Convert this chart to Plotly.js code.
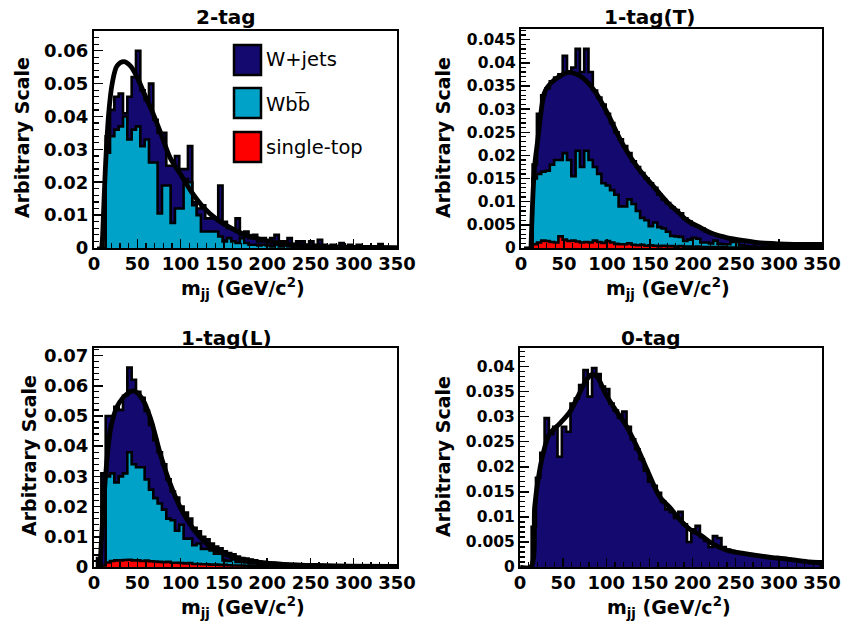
<!DOCTYPE html>
<html>
<head>
<meta charset="utf-8">
<script src="https://cdn.plot.ly/plotly-3.0.1.min.js"></script>
<style>html,body{margin:0;padding:0;background:#fff}#chart{width:842px;height:631px}</style>
</head>
<body>
<div id="chart"></div>
<script>
// ---------------- DATA ----------------
const binWidth = 5;
const binCenters = [6, 11, 16, 21, 26, 31, 36, 41, 46, 51,
  56, 61, 66, 71, 76, 81, 86, 91, 96, 101,
  106, 111, 116, 121, 126, 131, 136, 141, 146, 151,
  156, 161, 166, 171, 176, 181, 186, 191, 196, 201,
  206, 211, 216, 221, 226, 231, 236, 241, 246, 251,
  256, 261, 266, 271, 276, 281, 286, 291, 296, 301,
  306, 311, 316, 321, 326, 331, 336, 341, 346];

const panelTitles = ["2-tag", "1-tag(T)", "1-tag(L)", "0-tag"];
const seriesNames = ["W+jets", "Wbb\u0305", "single-top"];
const xTickVals = [0, 50, 100, 150, 200, 250, 300, 350];

// 2-tag
const wjets2tag = [0, 0, 0.034, 0.042, 0.046, 0.047, 0.041, 0.046, 0.052, 0.060,
  0.048, 0.045, 0.050, 0.039, 0.035, 0.035, 0.025, 0.025, 0.028, 0.024,
  0.024, 0.031, 0.014, 0.012, 0.013, 0.009, 0.009, 0.009, 0.019, 0.008,
  0.006, 0.006, 0.009, 0.004, 0.005, 0.003, 0.004, 0.002, 0.003, 0.002,
  0.003, 0.004, 0.002, 0.002, 0.003, 0.001, 0.002, 0.002, 0.001, 0.002,
  0.001, 0.0025, 0.001, 0.0005, 0.001, 0.0005, 0.0015, 0.0005, 0.001, 0.0005,
  0.001, 0.0005, 0.0005, 0.0005, 0.0005, 0.0012, 0.0003, 0.0002, 0.0002];
const wbb2tag = [0, 0, 0.029, 0.034, 0.036, 0.037, 0.040, 0.033, 0.036, 0.037,
  0.031, 0.033, 0.026, 0.026, 0.0105, 0.019, 0.019, 0.0076, 0.012, 0.012,
  0.021, 0.020, 0.013, 0.010, 0.005, 0.005, 0.005, 0.005, 0.0035, 0.002,
  0.003, 0.002, 0.0015, 0.003, 0.0015, 0.001, 0.001, 0.0008, 0.001, 0.0008,
  0.0005, 0.001, 0.0005, 0.0008, 0.0005, 0.0003, 0.0005, 0.0003, 0.0003, 0.0005,
  0.0002, 0.0002, 0.0002, 0.0001, 0.0001, 0.0001, 0.0001, 0, 0, 0,
  0, 0, 0, 0, 0, 0, 0, 0, 0];
const fitX2tag = [9, 10, 13, 17, 21, 26.6, 34.4, 42, 50, 57.5, 67, 77, 88, 100, 112, 127, 142.5, 158, 173.5, 185, 200, 219, 238, 257, 280, 300, 350];
const fitY2tag = [0, 0.004, 0.0234, 0.041, 0.050, 0.0554, 0.0567, 0.0554, 0.0518, 0.0473, 0.0417, 0.035, 0.0274, 0.0224, 0.0173, 0.0122, 0.0086, 0.0061, 0.0041, 0.0032, 0.0022, 0.0013, 0.0008, 0.0005, 0.0003, 0.0002, 0.0001];

// 1-tag(T)
const wjets1tagT = [0, 0, 0.018, 0.029, 0.033, 0.0345, 0.036, 0.0368, 0.0375, 0.0415,
  0.038, 0.039, 0.043, 0.038, 0.043, 0.038, 0.034, 0.0325, 0.031, 0.029,
  0.027, 0.025, 0.0235, 0.022, 0.0205, 0.0187, 0.0175, 0.0162, 0.015, 0.014,
  0.013, 0.0115, 0.0105, 0.0097, 0.0088, 0.0082, 0.0075, 0.0064, 0.0057, 0.005,
  0.0046, 0.0042, 0.0036, 0.0032, 0.0029, 0.0026, 0.0023, 0.0021, 0.002, 0.0018,
  0.0016, 0.0015, 0.0014, 0.0012, 0.0011, 0.001, 0.001, 0.0009, 0.0009, 0.0008,
  0.0008, 0.0008, 0.0009, 0.0008, 0.0007, 0.0007, 0.0007, 0.0006, 0.0009];
const wbb1tagT = [0, 0, 0.015, 0.016, 0.0165, 0.0167, 0.018, 0.019, 0.019, 0.0205,
  0.019, 0.0155, 0.021, 0.0175, 0.021, 0.019, 0.0175, 0.016, 0.014, 0.0135,
  0.0125, 0.0115, 0.009, 0.009, 0.0105, 0.0095, 0.008, 0.0065, 0.006, 0.0047,
  0.0055, 0.0045, 0.0042, 0.0035, 0.0026, 0.0025, 0.0024, 0.0015, 0.0018, 0.0022,
  0.002, 0.0012, 0.0012, 0.001, 0.0016, 0.0009, 0.0008, 0.0008, 0.0013, 0.0013,
  0.0006, 0.0004, 0.0003, 0.0003, 0.0002, 0.0002, 0.0002, 0.0002, 0.0001, 0.0001,
  0.0001, 0.0001, 0.0001, 0.0001, 0.0001, 0.0001, 0.0001, 0.0001, 0.0001];
const stop1tagT = [0, 0, 0.0008, 0.0012, 0.0016, 0.0015, 0.0013, 0.0012, 0.0025, 0.0018,
  0.0015, 0.0016, 0.0014, 0.0012, 0.0013, 0.0012, 0.0016, 0.0013, 0.0011, 0.0015,
  0.0012, 0.0009, 0.0008, 0.0008, 0.001, 0.0007, 0.0006, 0.0007, 0.0005, 0.0006,
  0.0005, 0.0004, 0.0005, 0.0004, 0.0004, 0.0003, 0.0004, 0.0003, 0.0003, 0.0002,
  0.0003, 0.0002, 0.0002, 0.0002, 0.0002, 0.0002, 0.0002, 0.0001, 0.0001, 0.0001,
  0.0001, 0.0001, 0.0001, 0.0001, 0.0001, 0.0001, 0.0001, 0.0001, 0.0001, 0.0001,
  0.0001, 0.0001, 0.0001, 0.0001, 0.0001, 0.0001, 0.0001, 0.0001, 0.0001];
const fitX1tagT = [11.6, 14, 16, 19.4, 23, 27, 31, 38.8, 54, 70, 85, 100.8, 116, 135.6, 155, 170.5, 180, 193, 208.6, 224, 240, 259, 278.7, 298, 318, 350];
const fitY1tagT = [0, 0.012, 0.018, 0.0232, 0.029, 0.0334, 0.0348, 0.0363, 0.0379, 0.037, 0.0341, 0.029, 0.0232, 0.0174, 0.0131, 0.0098, 0.0082, 0.006, 0.0044, 0.003, 0.0022, 0.0016, 0.0011, 0.0009, 0.0008, 0.0008];

// 1-tag(L)
const wjets1tagL = [0.003, 0.031, 0.050, 0.050, 0.053, 0.052, 0.0567, 0.066, 0.062, 0.058,
  0.056, 0.0517, 0.047, 0.042, 0.038, 0.034, 0.029, 0.025, 0.023, 0.020,
  0.018, 0.016, 0.013, 0.0118, 0.010, 0.0092, 0.0078, 0.0068, 0.0062, 0.0052,
  0.0046, 0.0042, 0.0035, 0.003, 0.0028, 0.0025, 0.0022, 0.0018, 0.0016, 0.0014,
  0.0013, 0.0012, 0.0011, 0.001, 0.0009, 0.0008, 0.0007, 0.0006, 0.0006, 0.0005,
  0.0005, 0.0004, 0.0004, 0.0003, 0.0003, 0.0003, 0.0003, 0.0002, 0.0002, 0.0002,
  0.0002, 0.0002, 0.0001, 0.0001, 0.0001, 0.0001, 0.0001, 0.0001, 0.0001];
const wbb1tagL = [0, 0, 0.030, 0.031, 0.028, 0.030, 0.031, 0.038, 0.034, 0.033,
  0.033, 0.029, 0.0256, 0.0228, 0.021, 0.019, 0.016, 0.0155, 0.012, 0.014,
  0.0094, 0.0094, 0.0072, 0.0078, 0.006, 0.006, 0.0055, 0.0044, 0.0044, 0.0022,
  0.002, 0.0025, 0.0017, 0.0017, 0.0015, 0.0012, 0.0012, 0.001, 0.001, 0.0008,
  0.0007, 0.0006, 0.0006, 0.0005, 0.0005, 0.0004, 0.0004, 0.0003, 0.0003, 0.0003,
  0.0002, 0.0002, 0.0002, 0.0002, 0.0001, 0.0001, 0.0001, 0.0001, 0.0001, 0.0001,
  0.0001, 0.0001, 0.0001, 0.0001, 0.0001, 0.0001, 0.0001, 0.0001, 0.0001];
const stop1tagL = [0, 0.0005, 0.0015, 0.002, 0.0022, 0.0022, 0.0023, 0.0024, 0.0022, 0.0022,
  0.002, 0.0021, 0.0019, 0.0018, 0.0017, 0.0016, 0.0017, 0.0014, 0.0014, 0.0013,
  0.0012, 0.0013, 0.001, 0.001, 0.0009, 0.0009, 0.0008, 0.0008, 0.0007, 0.0007,
  0.0006, 0.0005, 0.0005, 0.0005, 0.0004, 0.0004, 0.0003, 0.0003, 0.0003, 0.0003,
  0.0002, 0.0002, 0.0002, 0.0002, 0.0002, 0.0002, 0.0001, 0.0001, 0.0001, 0.0001,
  0.0001, 0.0001, 0.0001, 0.0001, 0.0001, 0.0001, 0.0001, 0.0001, 0.0001, 0.0001,
  0.0001, 0.0001, 0.0001, 0.0001, 0.0001, 0.0001, 0.0001, 0.0001, 0.0001];
const fitX1tagL = [7, 9.6, 13.5, 19.3, 27, 38.6, 46, 56, 65.5, 77, 88.7, 100, 107, 115, 123, 135, 153, 170, 192, 219, 257, 296, 350];
const fitY1tagL = [0, 0.014, 0.0306, 0.046, 0.0533, 0.0574, 0.0583, 0.0556, 0.049, 0.037, 0.027, 0.0195, 0.016, 0.0125, 0.0098, 0.0066, 0.004, 0.0026, 0.0015, 0.0009, 0.0005, 0.0003, 0.0002];

// 0-tag
const wjets0tag = [0, 0, 0.008, 0.0178, 0.0228, 0.0297, 0.0265, 0.028, 0.022, 0.028,
  0.027, 0.0326, 0.0336, 0.0363, 0.0393, 0.034, 0.0397, 0.0385, 0.036, 0.0355,
  0.0326, 0.0312, 0.0298, 0.031, 0.028, 0.0255, 0.0235, 0.0215, 0.0192, 0.017,
  0.0162, 0.0148, 0.013, 0.0115, 0.011, 0.0098, 0.011, 0.0085, 0.005, 0.0075,
  0.0082, 0.006, 0.0052, 0.004, 0.0062, 0.0058, 0.004, 0.0035, 0.0032, 0.003,
  0.0028, 0.0026, 0.0026, 0.0024, 0.0022, 0.0021, 0.0019, 0.0018, 0.0017, 0.0016,
  0.0018, 0.0016, 0.0013, 0.0013, 0.0012, 0.0011, 0.001, 0.0009, 0.001];
const fitX0tag = [0, 12.5, 17, 21, 27, 34, 46, 58, 67, 77, 83, 89, 100, 112, 123, 135, 147, 162, 174, 185, 197, 209, 220, 239, 259, 278, 298, 317, 336, 350];
const fitY0tag = [0, 0, 0.012, 0.0175, 0.0228, 0.0265, 0.0286, 0.031, 0.034, 0.0373, 0.0384, 0.038, 0.0343, 0.031, 0.0282, 0.0242, 0.0195, 0.014, 0.0118, 0.0095, 0.0075, 0.0064, 0.005, 0.0034, 0.0027, 0.0022, 0.0018, 0.0014, 0.001, 0.0009];

// ---------------- STYLE ----------------
const W = 842, H = 631;
const navy = "#14096e", cyan = "#00a2c8", red = "#ff0000";
const FONT = "DejaVu Sans";
const px = v => v / W;
const py = v => 1 - v / H;

function stepTrace(vals, color, xa, ya, name) {
  const xs = [binCenters[0] - binWidth / 2], ys = [0];
  for (let i = 0; i < binCenters.length; i++) {
    xs.push(binCenters[i] - binWidth / 2); ys.push(vals[i]);
  }
  const last = binCenters[binCenters.length - 1] + binWidth / 2;
  xs.push(last); ys.push(vals[vals.length - 1]);
  xs.push(last); ys.push(0);
  return {x: xs, y: ys, type: "scatter", mode: "lines", name: name,
    line: {shape: "hv", color: "#000", width: 2.6}, fill: "tozeroy", fillcolor: color,
    xaxis: xa, yaxis: ya, hoverinfo: "skip"};
}
function fitTrace(xs, ys, xa, ya) {
  return {x: xs, y: ys, type: "scatter", mode: "lines", name: "fit",
    line: {shape: "spline", smoothing: 0.9, color: "#000", width: 4.8},
    xaxis: xa, yaxis: ya, hoverinfo: "skip"};
}

const data = [
  stepTrace(wjets2tag, navy, "x", "y", seriesNames[0]),
  stepTrace(wbb2tag, cyan, "x", "y", seriesNames[1]),
  fitTrace(fitX2tag, fitY2tag, "x", "y"),

  stepTrace(wjets1tagT, navy, "x2", "y2", seriesNames[0]),
  stepTrace(wbb1tagT, cyan, "x2", "y2", seriesNames[1]),
  stepTrace(stop1tagT, red, "x2", "y2", seriesNames[2]),
  fitTrace(fitX1tagT, fitY1tagT, "x2", "y2"),

  stepTrace(wjets1tagL, navy, "x3", "y3", seriesNames[0]),
  stepTrace(wbb1tagL, cyan, "x3", "y3", seriesNames[1]),
  stepTrace(stop1tagL, red, "x3", "y3", seriesNames[2]),
  fitTrace(fitX1tagL, fitY1tagL, "x3", "y3"),

  stepTrace(wjets0tag, navy, "x4", "y4", seriesNames[0]),
  fitTrace(fitX0tag, fitY0tag, "x4", "y4")
];

function xAxis(x0, x1, anchor) {
  return {domain: [px(x0), px(x1)], anchor: anchor, range: [0, 350],
    tickvals: xTickVals, ticks: "inside", ticklen: 9, tickwidth: 1.5, tickcolor: "#000",
    minor: {dtick: 10, ticks: "inside", ticklen: 5, tickwidth: 1.2, tickcolor: "#000"},
    showline: true, mirror: true, linecolor: "#000", linewidth: 2,
    showgrid: false, zeroline: false, ticklabelstandoff: -2,
    tickfont: {family: FONT, size: 18, color: "#000", weight: "bold"}};
}
function yAxis(y0, y1, anchor, top, dt, mdt, fs) {
  return {domain: [py(y1), py(y0)], anchor: anchor, range: [0, top],
    dtick: dt, tick0: 0, ticks: "inside", ticklen: 9, tickwidth: 1.5, tickcolor: "#000",
    minor: {dtick: mdt, ticks: "inside", ticklen: 5, tickwidth: 1.2, tickcolor: "#000"},
    showline: true, mirror: true, linecolor: "#000", linewidth: 2,
    showgrid: false, zeroline: false,
    tickfont: {family: FONT, size: fs, color: "#000", weight: "bold"}};
}

const annotations = [];
function ann(text, x, y, size, weight, angle, xanchor) {
  annotations.push({text: text, xref: "paper", yref: "paper", x: px(x), y: py(y),
    xanchor: xanchor || "center", yanchor: "middle", showarrow: false,
    textangle: angle || 0,
    font: {family: FONT, size: size, color: "#000", weight: weight}});
}
// panel titles
ann(panelTitles[0], 226, 17, 20, "bold");
ann(panelTitles[1], 650, 17, 20, "bold");
ann(panelTitles[2], 226, 338, 20, "bold");
ann(panelTitles[3], 651, 338, 20, "bold");
// axis titles
const xTitle = "m<sub>jj</sub> (GeV/c<sup>2</sup>)";
const yTitle = "Arbitrary Scale";
ann(xTitle, 243, 288, 19, "bold");
ann(xTitle, 668, 288, 19, "bold");
ann(xTitle, 243, 607, 19, "bold");
ann(xTitle, 669, 607, 19, "bold");
ann(yTitle, 22, 138, 19, "bold", -90);
ann(yTitle, 443, 138, 19, "bold", -90);
ann(yTitle, 29, 456, 19, "bold", -90);
ann(yTitle, 443, 457, 19, "bold", -90);
// legend texts
ann(seriesNames[0], 264, 60, 19.5, "normal", 0, "left");
ann(seriesNames[1], 264, 103, 19.5, "normal", 0, "left");
ann(seriesNames[2], 264, 147, 19.5, "normal", 0, "left");

const shapes = [];
function box(y0, y1, color) {
  shapes.push({type: "rect", xref: "paper", yref: "paper",
    x0: px(234), x1: px(261), y0: py(y1), y1: py(y0),
    fillcolor: color, line: {color: "#000", width: 2.5}});
}
box(45, 75, navy);
box(88, 118, cyan);
box(132, 162, red);

const layout = {
  width: W, height: H, margin: {l: 0, r: 0, t: 0, b: 0},
  paper_bgcolor: "#fff", plot_bgcolor: "#fff", showlegend: false,
  xaxis: xAxis(94, 397, "y"),
  yaxis: yAxis(31, 248, "x", 0.066, 0.01, 0.002, 18),
  xaxis2: xAxis(521, 822, "y2"),
  yaxis2: yAxis(29, 248, "x2", 0.0473, 0.005, 0.001, 15.5),
  xaxis3: xAxis(94, 397, "y3"),
  yaxis3: yAxis(348, 567, "x3", 0.0725, 0.01, 0.002, 18),
  xaxis4: xAxis(520, 822, "y4"),
  yaxis4: yAxis(348, 567, "x4", 0.0437, 0.005, 0.001, 15.5),
  annotations: annotations,
  shapes: shapes
};

Plotly.newPlot("chart", data, layout, {staticPlot: true, displayModeBar: false});
</script>
</body>
</html>
